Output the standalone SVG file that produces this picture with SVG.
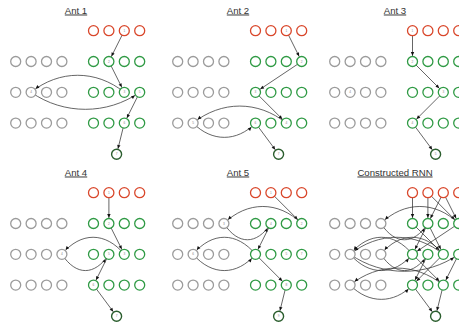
<svg xmlns="http://www.w3.org/2000/svg" width="459" height="326" viewBox="0 0 459 326">
<defs>
<style>
.t{font-family:"Liberation Sans",Arial,sans-serif;font-size:9.6px;fill:#333;text-anchor:middle;text-decoration:underline}
circle{fill:#fff;stroke-width:1.3}
.r circle{stroke:#d9472b}
.g circle{stroke:#2f9a44}
.x circle{stroke:#9b9b9b}
.o circle{stroke:#2b5e2e;stroke-width:1.4}
.l{font-family:"Liberation Sans",Arial,sans-serif;font-size:3.2px;fill:#888;text-anchor:middle}
.e path{fill:none;stroke:#333;stroke-width:0.75;marker-end:url(#ah)}
</style>
<marker id="ah" viewBox="-10 -2 10 4" markerWidth="10" markerHeight="4" refX="0" refY="0" orient="auto" markerUnits="userSpaceOnUse" overflow="visible"><path d="M-9.4,-1.7 L-5.8,0 L-9.4,1.7 z" fill="#111"/></marker>
</defs>
<rect width="459" height="326" fill="#fff"/>

<!-- Ant 1 -->
<g id="ant1">
<text class="t" x="76" y="13.5">Ant 1</text>
<g id="a1-edges" class="e">
<path d="M124.3,30.7 L108.9,61.5"/>
<path d="M108.9,61.5 L124.3,92.3"/>
<path d="M124.3,92.3 C96.3,69.6 59.1,69.6 31.1,92.3"/>
<path d="M31.1,92.3 C63.7,115 107.1,115 139.7,92.3"/>
<path d="M139.7,92.3 L124.3,123.1"/>
<path d="M124.3,123.1 L116.6,154.2"/>
</g>
<g id="a1-r0c1" class="r"><circle cx="93.5" cy="30.7" r="5"/></g>
<g id="a1-r0c2" class="r"><circle cx="108.9" cy="30.7" r="5"/></g>
<g id="a1-r0c3" class="r"><circle cx="124.3" cy="30.7" r="5"/><text class="l" x="124.3" y="31.8">1</text></g>
<g id="a1-r0c4" class="r"><circle cx="139.7" cy="30.7" r="5"/></g>
<g id="a1-r1g1" class="x"><circle cx="15.7" cy="61.5" r="5"/></g>
<g id="a1-r1g2" class="x"><circle cx="31.1" cy="61.5" r="5"/></g>
<g id="a1-r1g3" class="x"><circle cx="46.5" cy="61.5" r="5"/></g>
<g id="a1-r1g4" class="x"><circle cx="61.9" cy="61.5" r="5"/></g>
<g id="a1-r1c1" class="g"><circle cx="93.5" cy="61.5" r="5"/></g>
<g id="a1-r1c2" class="g"><circle cx="108.9" cy="61.5" r="5"/><text class="l" x="108.9" y="62.6">2</text></g>
<g id="a1-r1c3" class="g"><circle cx="124.3" cy="61.5" r="5"/></g>
<g id="a1-r1c4" class="g"><circle cx="139.7" cy="61.5" r="5"/></g>
<g id="a1-r2g1" class="x"><circle cx="15.7" cy="92.3" r="5"/></g>
<g id="a1-r2g2" class="x"><circle cx="31.1" cy="92.3" r="5"/><text class="l" x="31.1" y="93.4">4</text></g>
<g id="a1-r2g3" class="x"><circle cx="46.5" cy="92.3" r="5"/></g>
<g id="a1-r2g4" class="x"><circle cx="61.9" cy="92.3" r="5"/></g>
<g id="a1-r2c1" class="g"><circle cx="93.5" cy="92.3" r="5"/></g>
<g id="a1-r2c2" class="g"><circle cx="108.9" cy="92.3" r="5"/></g>
<g id="a1-r2c3" class="g"><circle cx="124.3" cy="92.3" r="5"/><text class="l" x="124.3" y="93.4">3</text></g>
<g id="a1-r2c4" class="g"><circle cx="139.7" cy="92.3" r="5"/><text class="l" x="139.7" y="93.4">5</text></g>
<g id="a1-r3g1" class="x"><circle cx="15.7" cy="123.1" r="5"/></g>
<g id="a1-r3g2" class="x"><circle cx="31.1" cy="123.1" r="5"/></g>
<g id="a1-r3g3" class="x"><circle cx="46.5" cy="123.1" r="5"/></g>
<g id="a1-r3g4" class="x"><circle cx="61.9" cy="123.1" r="5"/></g>
<g id="a1-r3c1" class="g"><circle cx="93.5" cy="123.1" r="5"/></g>
<g id="a1-r3c2" class="g"><circle cx="108.9" cy="123.1" r="5"/></g>
<g id="a1-r3c3" class="g"><circle cx="124.3" cy="123.1" r="5"/><text class="l" x="124.3" y="124.2">6</text></g>
<g id="a1-r3c4" class="g"><circle cx="139.7" cy="123.1" r="5"/></g>
<g id="a1-out" class="o"><circle cx="116.6" cy="154.2" r="5"/><text class="l" x="116.6" y="155.3">7</text></g>
</g>

<!-- Ant 2 -->
<g id="ant2" transform="translate(162,0)">
<text class="t" x="76" y="13.5">Ant 2</text>
<g id="a2-edges" class="e">
<path d="M124.3,30.7 L139.7,61.5"/>
<path d="M139.7,61.5 L93.5,92.3"/>
<path d="M93.5,92.3 L124.3,123.1"/>
<path d="M124.3,123.1 C96.3,100.4 59.1,100.4 31.1,123.1"/>
<path d="M31.1,123.1 C49.8,142.1 74.8,142.1 93.5,123.1"/>
<path d="M93.5,123.1 L116.6,154.2"/>
</g>
<g id="a2-r0c1" class="r"><circle cx="93.5" cy="30.7" r="5"/></g>
<g id="a2-r0c2" class="r"><circle cx="108.9" cy="30.7" r="5"/></g>
<g id="a2-r0c3" class="r"><circle cx="124.3" cy="30.7" r="5"/><text class="l" x="124.3" y="31.8">1</text></g>
<g id="a2-r0c4" class="r"><circle cx="139.7" cy="30.7" r="5"/></g>
<g id="a2-r1g1" class="x"><circle cx="15.7" cy="61.5" r="5"/></g>
<g id="a2-r1g2" class="x"><circle cx="31.1" cy="61.5" r="5"/></g>
<g id="a2-r1g3" class="x"><circle cx="46.5" cy="61.5" r="5"/></g>
<g id="a2-r1g4" class="x"><circle cx="61.9" cy="61.5" r="5"/></g>
<g id="a2-r1c1" class="g"><circle cx="93.5" cy="61.5" r="5"/></g>
<g id="a2-r1c2" class="g"><circle cx="108.9" cy="61.5" r="5"/></g>
<g id="a2-r1c3" class="g"><circle cx="124.3" cy="61.5" r="5"/></g>
<g id="a2-r1c4" class="g"><circle cx="139.7" cy="61.5" r="5"/><text class="l" x="139.7" y="62.6">2</text></g>
<g id="a2-r2g1" class="x"><circle cx="15.7" cy="92.3" r="5"/></g>
<g id="a2-r2g2" class="x"><circle cx="31.1" cy="92.3" r="5"/></g>
<g id="a2-r2g3" class="x"><circle cx="46.5" cy="92.3" r="5"/></g>
<g id="a2-r2g4" class="x"><circle cx="61.9" cy="92.3" r="5"/></g>
<g id="a2-r2c1" class="g"><circle cx="93.5" cy="92.3" r="5"/><text class="l" x="93.5" y="93.4">3</text></g>
<g id="a2-r2c2" class="g"><circle cx="108.9" cy="92.3" r="5"/></g>
<g id="a2-r2c3" class="g"><circle cx="124.3" cy="92.3" r="5"/></g>
<g id="a2-r2c4" class="g"><circle cx="139.7" cy="92.3" r="5"/></g>
<g id="a2-r3g1" class="x"><circle cx="15.7" cy="123.1" r="5"/></g>
<g id="a2-r3g2" class="x"><circle cx="31.1" cy="123.1" r="5"/><text class="l" x="31.1" y="124.2">5</text></g>
<g id="a2-r3g3" class="x"><circle cx="46.5" cy="123.1" r="5"/></g>
<g id="a2-r3g4" class="x"><circle cx="61.9" cy="123.1" r="5"/></g>
<g id="a2-r3c1" class="g"><circle cx="93.5" cy="123.1" r="5"/><text class="l" x="93.5" y="124.2">6</text></g>
<g id="a2-r3c2" class="g"><circle cx="108.9" cy="123.1" r="5"/></g>
<g id="a2-r3c3" class="g"><circle cx="124.3" cy="123.1" r="5"/><text class="l" x="124.3" y="124.2">4</text></g>
<g id="a2-r3c4" class="g"><circle cx="139.7" cy="123.1" r="5"/></g>
<g id="a2-out" class="o"><circle cx="116.6" cy="154.2" r="5"/><text class="l" x="116.6" y="155.3">7</text></g>
</g>

<!-- Ant 3 -->
<g id="ant3" transform="translate(319,0)">
<text class="t" x="76" y="13.5">Ant 3</text>
<g id="a3-edges" class="e">
<path d="M93.5,30.7 L93.5,61.5"/>
<path d="M93.5,61.5 L124.3,92.3"/>
<path d="M124.3,92.3 L93.5,123.1"/>
<path d="M93.5,123.1 L116.6,154.2"/>
</g>
<g id="a3-r0c1" class="r"><circle cx="93.5" cy="30.7" r="5"/><text class="l" x="93.5" y="31.8">1</text></g>
<g id="a3-r0c2" class="r"><circle cx="108.9" cy="30.7" r="5"/></g>
<g id="a3-r0c3" class="r"><circle cx="124.3" cy="30.7" r="5"/></g>
<g id="a3-r0c4" class="r"><circle cx="139.7" cy="30.7" r="5"/></g>
<g id="a3-r1g1" class="x"><circle cx="15.7" cy="61.5" r="5"/></g>
<g id="a3-r1g2" class="x"><circle cx="31.1" cy="61.5" r="5"/></g>
<g id="a3-r1g3" class="x"><circle cx="46.5" cy="61.5" r="5"/></g>
<g id="a3-r1g4" class="x"><circle cx="61.9" cy="61.5" r="5"/></g>
<g id="a3-r1c1" class="g"><circle cx="93.5" cy="61.5" r="5"/><text class="l" x="93.5" y="62.6">2</text></g>
<g id="a3-r1c2" class="g"><circle cx="108.9" cy="61.5" r="5"/></g>
<g id="a3-r1c3" class="g"><circle cx="124.3" cy="61.5" r="5"/></g>
<g id="a3-r1c4" class="g"><circle cx="139.7" cy="61.5" r="5"/></g>
<g id="a3-r2g1" class="x"><circle cx="15.7" cy="92.3" r="5"/></g>
<g id="a3-r2g2" class="x"><circle cx="31.1" cy="92.3" r="5"/><text class="l" x="31.1" y="93.4">4</text></g>
<g id="a3-r2g3" class="x"><circle cx="46.5" cy="92.3" r="5"/></g>
<g id="a3-r2g4" class="x"><circle cx="61.9" cy="92.3" r="5"/></g>
<g id="a3-r2c1" class="g"><circle cx="93.5" cy="92.3" r="5"/></g>
<g id="a3-r2c2" class="g"><circle cx="108.9" cy="92.3" r="5"/></g>
<g id="a3-r2c3" class="g"><circle cx="124.3" cy="92.3" r="5"/><text class="l" x="124.3" y="93.4">3</text></g>
<g id="a3-r2c4" class="g"><circle cx="139.7" cy="92.3" r="5"/></g>
<g id="a3-r3g1" class="x"><circle cx="15.7" cy="123.1" r="5"/></g>
<g id="a3-r3g2" class="x"><circle cx="31.1" cy="123.1" r="5"/></g>
<g id="a3-r3g3" class="x"><circle cx="46.5" cy="123.1" r="5"/></g>
<g id="a3-r3g4" class="x"><circle cx="61.9" cy="123.1" r="5"/></g>
<g id="a3-r3c1" class="g"><circle cx="93.5" cy="123.1" r="5"/><text class="l" x="93.5" y="124.2">4</text></g>
<g id="a3-r3c2" class="g"><circle cx="108.9" cy="123.1" r="5"/></g>
<g id="a3-r3c3" class="g"><circle cx="124.3" cy="123.1" r="5"/></g>
<g id="a3-r3c4" class="g"><circle cx="139.7" cy="123.1" r="5"/></g>
<g id="a3-out" class="o"><circle cx="116.6" cy="154.2" r="5"/><text class="l" x="116.6" y="155.3">5</text></g>
</g>

<!-- Ant 4 -->
<g id="ant4" transform="translate(0,162)">
<text class="t" x="76" y="13.5">Ant 4</text>
<g id="a4-edges" class="e">
<path d="M108.9,30.7 L108.9,61.5"/>
<path d="M108.9,61.5 L124.3,92.3"/>
<path d="M124.3,92.3 C105.6,69.6 80.6,69.6 61.9,92.3"/>
<path d="M61.9,92.3 C76,114 94.8,114 108.9,92.3"/>
<path d="M108.9,92.3 L93.5,123.1"/>
<path d="M93.5,123.1 L116.6,154.2"/>
</g>
<g id="a4-r0c1" class="r"><circle cx="93.5" cy="30.7" r="5"/></g>
<g id="a4-r0c2" class="r"><circle cx="108.9" cy="30.7" r="5"/><text class="l" x="108.9" y="31.8">1</text></g>
<g id="a4-r0c3" class="r"><circle cx="124.3" cy="30.7" r="5"/></g>
<g id="a4-r0c4" class="r"><circle cx="139.7" cy="30.7" r="5"/></g>
<g id="a4-r1g1" class="x"><circle cx="15.7" cy="61.5" r="5"/></g>
<g id="a4-r1g2" class="x"><circle cx="31.1" cy="61.5" r="5"/></g>
<g id="a4-r1g3" class="x"><circle cx="46.5" cy="61.5" r="5"/></g>
<g id="a4-r1g4" class="x"><circle cx="61.9" cy="61.5" r="5"/></g>
<g id="a4-r1c1" class="g"><circle cx="93.5" cy="61.5" r="5"/></g>
<g id="a4-r1c2" class="g"><circle cx="108.9" cy="61.5" r="5"/><text class="l" x="108.9" y="62.6">2</text></g>
<g id="a4-r1c3" class="g"><circle cx="124.3" cy="61.5" r="5"/></g>
<g id="a4-r1c4" class="g"><circle cx="139.7" cy="61.5" r="5"/></g>
<g id="a4-r2g1" class="x"><circle cx="15.7" cy="92.3" r="5"/></g>
<g id="a4-r2g2" class="x"><circle cx="31.1" cy="92.3" r="5"/></g>
<g id="a4-r2g3" class="x"><circle cx="46.5" cy="92.3" r="5"/></g>
<g id="a4-r2g4" class="x"><circle cx="61.9" cy="92.3" r="5"/><text class="l" x="61.9" y="93.4">4</text></g>
<g id="a4-r2c1" class="g"><circle cx="93.5" cy="92.3" r="5"/></g>
<g id="a4-r2c2" class="g"><circle cx="108.9" cy="92.3" r="5"/><text class="l" x="108.9" y="93.4">5</text></g>
<g id="a4-r2c3" class="g"><circle cx="124.3" cy="92.3" r="5"/><text class="l" x="124.3" y="93.4">3</text></g>
<g id="a4-r2c4" class="g"><circle cx="139.7" cy="92.3" r="5"/></g>
<g id="a4-r3g1" class="x"><circle cx="15.7" cy="123.1" r="5"/></g>
<g id="a4-r3g2" class="x"><circle cx="31.1" cy="123.1" r="5"/></g>
<g id="a4-r3g3" class="x"><circle cx="46.5" cy="123.1" r="5"/></g>
<g id="a4-r3g4" class="x"><circle cx="61.9" cy="123.1" r="5"/></g>
<g id="a4-r3c1" class="g"><circle cx="93.5" cy="123.1" r="5"/><text class="l" x="93.5" y="124.2">6</text></g>
<g id="a4-r3c2" class="g"><circle cx="108.9" cy="123.1" r="5"/></g>
<g id="a4-r3c3" class="g"><circle cx="124.3" cy="123.1" r="5"/></g>
<g id="a4-r3c4" class="g"><circle cx="139.7" cy="123.1" r="5"/></g>
<g id="a4-out" class="o"><circle cx="116.6" cy="154.2" r="5"/><text class="l" x="116.6" y="155.3">7</text></g>
</g>

<!-- Ant 5 -->
<g id="ant5" transform="translate(162,162)">
<text class="t" x="76" y="13.5">Ant 5</text>
<g id="a5-edges" class="e">
<path d="M108.9,30.7 L139.7,61.5"/>
<path d="M139.7,61.5 C116.4,38.8 85.2,38.8 61.9,61.5"/>
<path d="M61.9,61.5 C76,83.2 94.8,83.2 108.9,61.5"/>
<path d="M108.9,61.5 L93.5,92.3"/>
<path d="M93.5,92.3 C74.8,69.6 49.8,69.6 31.1,92.3"/>
<path d="M31.1,92.3 C49.8,114 74.8,114 93.5,92.3"/>
<path d="M93.5,92.3 L124.3,123.1"/>
<path d="M124.3,123.1 L116.6,154.2"/>
</g>
<g id="a5-r0c1" class="r"><circle cx="93.5" cy="30.7" r="5"/></g>
<g id="a5-r0c2" class="r"><circle cx="108.9" cy="30.7" r="5"/><text class="l" x="108.9" y="31.8">1</text></g>
<g id="a5-r0c3" class="r"><circle cx="124.3" cy="30.7" r="5"/></g>
<g id="a5-r0c4" class="r"><circle cx="139.7" cy="30.7" r="5"/></g>
<g id="a5-r1g1" class="x"><circle cx="15.7" cy="61.5" r="5"/></g>
<g id="a5-r1g2" class="x"><circle cx="31.1" cy="61.5" r="5"/></g>
<g id="a5-r1g3" class="x"><circle cx="46.5" cy="61.5" r="5"/></g>
<g id="a5-r1g4" class="x"><circle cx="61.9" cy="61.5" r="5"/><text class="l" x="61.9" y="62.6">3</text></g>
<g id="a5-r1c1" class="g"><circle cx="93.5" cy="61.5" r="5"/></g>
<g id="a5-r1c2" class="g"><circle cx="108.9" cy="61.5" r="5"/><text class="l" x="108.9" y="62.6">4</text></g>
<g id="a5-r1c3" class="g"><circle cx="124.3" cy="61.5" r="5"/></g>
<g id="a5-r1c4" class="g"><circle cx="139.7" cy="61.5" r="5"/><text class="l" x="139.7" y="62.6">2</text></g>
<g id="a5-r2g1" class="x"><circle cx="15.7" cy="92.3" r="5"/></g>
<g id="a5-r2g2" class="x"><circle cx="31.1" cy="92.3" r="5"/><text class="l" x="31.1" y="93.4">6</text></g>
<g id="a5-r2g3" class="x"><circle cx="46.5" cy="92.3" r="5"/></g>
<g id="a5-r2g4" class="x"><circle cx="61.9" cy="92.3" r="5"/></g>
<g id="a5-r2c1" class="g"><circle cx="93.5" cy="92.3" r="5"/></g>
<g id="a5-r2c2" class="g"><circle cx="108.9" cy="92.3" r="5"/></g>
<g id="a5-r2c3" class="g"><circle cx="124.3" cy="92.3" r="5"/><text class="l" x="124.3" y="93.4">5</text></g>
<g id="a5-r2c4" class="g"><circle cx="139.7" cy="92.3" r="5"/><text class="l" x="139.7" y="93.4">7</text></g>
<g id="a5-r3g1" class="x"><circle cx="15.7" cy="123.1" r="5"/></g>
<g id="a5-r3g2" class="x"><circle cx="31.1" cy="123.1" r="5"/></g>
<g id="a5-r3g3" class="x"><circle cx="46.5" cy="123.1" r="5"/></g>
<g id="a5-r3g4" class="x"><circle cx="61.9" cy="123.1" r="5"/></g>
<g id="a5-r3c1" class="g"><circle cx="93.5" cy="123.1" r="5"/></g>
<g id="a5-r3c2" class="g"><circle cx="108.9" cy="123.1" r="5"/></g>
<g id="a5-r3c3" class="g"><circle cx="124.3" cy="123.1" r="5"/><text class="l" x="124.3" y="124.2">8</text></g>
<g id="a5-r3c4" class="g"><circle cx="139.7" cy="123.1" r="5"/></g>
<g id="a5-out" class="o"><circle cx="116.6" cy="154.2" r="5"/><text class="l" x="116.6" y="155.3">9</text></g>
</g>

<!-- Constructed RNN -->
<g id="rnn" transform="translate(319,162)">
<text class="t" x="76" y="13.5">Constructed RNN</text>
<g id="rnn-edges" class="e">
<path d="M93.5,30.7 L93.5,61.5"/>
<path d="M108.9,30.7 L108.9,61.5"/>
<path d="M108.9,30.7 L139.7,61.5"/>
<path d="M124.3,30.7 L108.9,61.5"/>
<path d="M124.3,30.7 L139.7,61.5"/>
<path d="M139.7,61.5 C116.4,38.8 85.2,38.8 61.9,61.5"/>
<path d="M61.9,61.5 C76,83.2 94.8,83.2 108.9,61.5"/>
<path d="M93.5,61.5 L124.3,92.3"/>
<path d="M108.9,61.5 L124.3,92.3"/>
<path d="M108.9,61.5 L93.5,92.3"/>
<path d="M139.7,61.5 L93.5,92.3"/>
<path d="M124.3,92.3 C96.3,69.6 59.1,69.6 31.1,92.3"/>
<path d="M31.1,92.3 C63.7,115 107.1,115 139.7,92.3"/>
<path d="M124.3,92.3 C105.6,69.6 80.6,69.6 61.9,92.3"/>
<path d="M61.9,92.3 C76,114 94.8,114 108.9,92.3"/>
<path d="M93.5,92.3 C74.8,69.6 49.8,69.6 31.1,92.3"/>
<path d="M31.1,92.3 C49.8,114 74.8,114 93.5,92.3"/>
<path d="M93.5,92.3 L124.3,123.1"/>
<path d="M108.9,92.3 L93.5,123.1"/>
<path d="M124.3,92.3 L93.5,123.1"/>
<path d="M139.7,92.3 L124.3,123.1"/>
<path d="M124.3,123.1 C96.3,100.4 59.1,100.4 31.1,123.1"/>
<path d="M31.1,123.1 C49.8,142.1 74.8,142.1 93.5,123.1"/>
<path d="M93.5,123.1 L116.6,154.2"/>
<path d="M124.3,123.1 L116.6,154.2"/>
</g>
<g id="rnn-r0c1" class="r"><circle cx="93.5" cy="30.7" r="5"/></g>
<g id="rnn-r0c2" class="r"><circle cx="108.9" cy="30.7" r="5"/></g>
<g id="rnn-r0c3" class="r"><circle cx="124.3" cy="30.7" r="5"/></g>
<g id="rnn-r0c4" class="r"><circle cx="139.7" cy="30.7" r="5"/></g>
<g id="rnn-r1g1" class="x"><circle cx="15.7" cy="61.5" r="5"/></g>
<g id="rnn-r1g2" class="x"><circle cx="31.1" cy="61.5" r="5"/></g>
<g id="rnn-r1g3" class="x"><circle cx="46.5" cy="61.5" r="5"/></g>
<g id="rnn-r1g4" class="x"><circle cx="61.9" cy="61.5" r="5"/></g>
<g id="rnn-r1c1" class="g"><circle cx="93.5" cy="61.5" r="5"/></g>
<g id="rnn-r1c2" class="g"><circle cx="108.9" cy="61.5" r="5"/></g>
<g id="rnn-r1c3" class="g"><circle cx="124.3" cy="61.5" r="5"/></g>
<g id="rnn-r1c4" class="g"><circle cx="139.7" cy="61.5" r="5"/></g>
<g id="rnn-r2g1" class="x"><circle cx="15.7" cy="92.3" r="5"/></g>
<g id="rnn-r2g2" class="x"><circle cx="31.1" cy="92.3" r="5"/></g>
<g id="rnn-r2g3" class="x"><circle cx="46.5" cy="92.3" r="5"/></g>
<g id="rnn-r2g4" class="x"><circle cx="61.9" cy="92.3" r="5"/></g>
<g id="rnn-r2c1" class="g"><circle cx="93.5" cy="92.3" r="5"/></g>
<g id="rnn-r2c2" class="g"><circle cx="108.9" cy="92.3" r="5"/></g>
<g id="rnn-r2c3" class="g"><circle cx="124.3" cy="92.3" r="5"/></g>
<g id="rnn-r2c4" class="g"><circle cx="139.7" cy="92.3" r="5"/></g>
<g id="rnn-r3g1" class="x"><circle cx="15.7" cy="123.1" r="5"/></g>
<g id="rnn-r3g2" class="x"><circle cx="31.1" cy="123.1" r="5"/></g>
<g id="rnn-r3g3" class="x"><circle cx="46.5" cy="123.1" r="5"/></g>
<g id="rnn-r3g4" class="x"><circle cx="61.9" cy="123.1" r="5"/></g>
<g id="rnn-r3c1" class="g"><circle cx="93.5" cy="123.1" r="5"/></g>
<g id="rnn-r3c2" class="g"><circle cx="108.9" cy="123.1" r="5"/></g>
<g id="rnn-r3c3" class="g"><circle cx="124.3" cy="123.1" r="5"/></g>
<g id="rnn-r3c4" class="g"><circle cx="139.7" cy="123.1" r="5"/></g>
<g id="rnn-out" class="o"><circle cx="116.6" cy="154.2" r="5"/></g>
</g>
</svg>
